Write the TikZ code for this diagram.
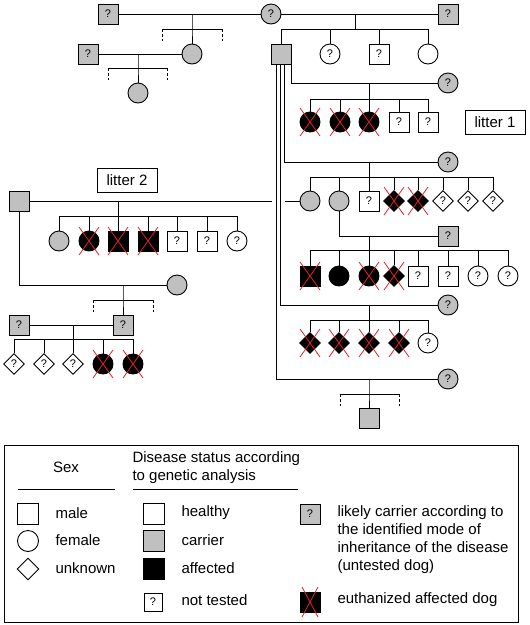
\documentclass[tikz,border=0pt]{standalone}
\usepackage{fontspec}
\setmainfont{Liberation Sans}
\usepackage{tikz}
\usetikzlibrary{shapes.geometric,backgrounds}
\definecolor{carrgray}{RGB}{192,192,192}
\definecolor{xred}{RGB}{228,32,40}

\tikzset{
	dog/.style={draw, line width=0.9pt, fill=white, inner sep=0pt, font=\fontsize{11}{11}\selectfont},
	male/.style={dog, rectangle, minimum size=20pt},
	fem/.style={dog, circle, minimum size=20pt},
	unk/.style={dog, diamond, minimum size=21pt},
	carr/.style={fill=carrgray},
	aff/.style={fill=black},
	pline/.style={line width=0.9pt},
	openend/.style={line width=0.9pt, dash pattern=on 3pt off 2pt},
	xmark/.style={draw=xred, line width=0.8pt},
	lbox/.style={draw, line width=0.9pt, minimum width=60pt, minimum height=24pt},
	every node/.append style={font=\fontsize{15}{18}\selectfont}
}

\begin{document}
\begin{tikzpicture}[x=1pt, y=-1pt]
	\useasboundingbox (0,0) rectangle (530,625);

	% founders
	\node[male,carr] (g1m) at (108,14) {?};
	\node[fem,carr] (g1f) at (271,14) {?};
	\node[male,carr] (g1r) at (448,14) {?};
	\node[fem,carr] (l1f) at (192,54) {};
	\node[male,carr] (l1m) at (88,54) {?};
	\node[fem,carr] (l2f) at (138,93) {};
	\node[male,carr] (sire) at (281,54) {};
	\node[fem] (s2) at (330,54) {?};
	\node[male] (s3) at (379,54) {?};
	\node[fem] (s4) at (428,54) {};

	% litter 1
	\node[fem,carr] (d1) at (448,83) {?};
	\foreach \n/\x in {a1/310, a2/340, a3/369}
		\node[fem,aff] (\n) at (\x,122) {};
	\node[male] (a4) at (399,122) {?};
	\node[male] (a5) at (428,122) {?};
	\node[lbox] (lit1) at (495,122) {litter 1};

	% litter 3
	\node[fem,carr] (d3) at (448,162) {?};
	\node[fem,carr] (b1) at (310,201) {};
	\node[fem,carr] (b2) at (339,201) {};
	\node[male] (b3) at (369,201) {?};
	\node[unk,aff] (b4) at (394,201) {};
	\node[unk,aff] (b5) at (418,201) {};
	\foreach \n/\x in {b6/443, b7/468, b8/493}
		\node[unk] (\n) at (\x,201) {?};

	% litter 2
	\node[male,carr] (sire2) at (19,201) {};
	\node[lbox] (lit2) at (127,180) {litter 2};
	\node[fem,carr] (c1) at (59,241) {};
	\node[fem,aff] (c2) at (89,241) {};
	\node[male,aff] (c3) at (118,241) {};
	\node[male,aff] (c4) at (148,241) {};
	\node[male] (c5) at (177,241) {?};
	\node[male] (c6) at (207,241) {?};
	\node[fem] (c7) at (237,241) {?};

	% litter 4
	\node[male,carr] (d4) at (448,236) {?};
	\node[male,aff] (e1) at (310,276) {};
	\node[fem,aff] (e2) at (339,276) {};
	\node[fem,aff] (e3) at (369,276) {};
	\node[unk,aff] (e4) at (394,276) {};
	\node[male] (e5) at (418,276) {?};
	\node[male] (e6) at (448,276) {?};
	\node[fem] (e7) at (478,276) {?};
	\node[fem] (e8) at (508,276) {?};

	% litter 5 and 6
	\node[fem,carr] (d5) at (448,305) {?};
	\foreach \n/\x in {h1/310, h2/339, h3/369, h4/399}
		\node[unk,aff] (\n) at (\x,343) {};
	\node[fem] (h5) at (428,343) {?};
	\node[fem,carr] (d6) at (448,379) {?};
	\node[male,carr] (k1) at (369,418) {};

	% lower left family
	\node[fem,carr] (d7) at (177,285) {};
	\node[male,carr] (p1) at (123,325) {?};
	\node[male,carr] (p0) at (19,325) {?};
	\foreach \n/\x in {q1/14, q2/44, q3/73}
		\node[unk] (\n) at (\x,364) {?};
	\node[fem,aff] (q4) at (103,364) {};
	\node[fem,aff] (q5) at (133,364) {};

	% join points
	\coordinate (j0) at (192,14);  \coordinate (j0s) at (192,29);
	\coordinate (j0a) at (162,29); \coordinate (j0b) at (222,29);
	\coordinate (j1) at (355,14);  \coordinate (j1s) at (355,29);
	\coordinate (j2) at (138,54);  \coordinate (j2s) at (138,68);
	\coordinate (j2a) at (108,68); \coordinate (j2b) at (167,68);
	\coordinate (k1m) at (369,83);  \coordinate (k1s) at (369,99);
	\coordinate (k3m) at (369,162); \coordinate (k3s) at (369,177);
	\coordinate (k4m) at (369,236); \coordinate (k4s) at (369,250);
	\coordinate (k5m) at (369,305); \coordinate (k5s) at (369,320);
	\coordinate (k6m) at (369,379); \coordinate (k6s) at (369,394);
	\coordinate (k6a) at (340,394); \coordinate (k6b) at (399,394);
	\coordinate (k2m) at (118,201); \coordinate (k2s) at (118,216);
	\coordinate (gapL) at (272,201); \coordinate (gapR) at (285,201);
	\coordinate (k7m) at (123,285); \coordinate (k7s) at (123,300);
	\coordinate (k7a) at (93,300);  \coordinate (k7b) at (153,300);
	\coordinate (k8m) at (73,325);  \coordinate (k8s) at (73,339);

	\begin{scope}[on background layer, pline]
		% top generations
		\draw (g1m) -- (g1f) -- (g1r);
		\draw (j0) -- (j0s) -- (l1f);
		\draw (j0a) -- (j0b);
		\draw[openend] (j0a) -- ++(0,12) (j0b) -- ++(0,12);
		\draw (l1m) -- (l1f);
		\draw (j2) -- (j2s) -- (l2f);
		\draw (j2a) -- (j2b);
		\draw[openend] (j2a) -- ++(0,12) (j2b) -- ++(0,12);
		\draw (j1) -- (j1s);
		\foreach \n in {sire, s2, s3, s4}
			\draw (j1s) -| (\n);
		% matings of the sire
		\draw (sire.south east) |- (d1);
		\draw ([xshift=3pt]sire.south) |- (d3);
		\draw ([xshift=-1pt]sire.south) |- (d5);
		\draw ([xshift=-5pt]sire.south) |- (d6);
		% litters
		\draw (k1m) -- (k1s);
		\foreach \n in {a1, a2, a3, a4, a5}
			\draw (k1s) -| (\n);
		\draw (k3m) -- (k3s);
		\foreach \n in {b1, b2, b3, b4, b5, b6, b7, b8}
			\draw (k3s) -| (\n);
		\draw (b2) |- (d4);
		\draw (k4m) -- (k4s);
		\foreach \n in {e1, e2, e3, e4, e5, e6, e7, e8}
			\draw (k4s) -| (\n);
		\draw (k5m) -- (k5s);
		\foreach \n in {h1, h2, h3, h4, h5}
			\draw (k5s) -| (\n);
		\draw (k6m) -- (k6s) -- (k1);
		\draw (k6a) -- (k6b);
		\draw[openend] (k6a) -- ++(0,12) (k6b) -- ++(0,12);
		% litter 2 and below
		\draw (sire2) -- (gapL);
		\draw (gapR) -- (b1);
		\draw (k2m) -- (k2s);
		\foreach \n in {c1, c2, c3, c4, c5, c6, c7}
			\draw (k2s) -| (\n);
		\draw (sire2) |- (d7);
		\draw (k7m) -- (k7s) -- (p1);
		\draw (k7a) -- (k7b);
		\draw[openend] (k7a) -- ++(0,12) (k7b) -- ++(0,12);
		\draw (p0) -- (p1);
		\draw (k8m) -- (k8s);
		\foreach \n in {q1, q2, q3, q4, q5}
			\draw (k8s) -| (\n);
	\end{scope}

	% euthanized dogs
	\foreach \n in {a1, a2, a3, b4, b5, c2, c3, c4, e1, e3, e4, h1, h2, h3, h4, q4, q5}
		\draw[xmark] (\n.center) +(-10,-14) -- +(10,14) (\n.center) +(-10,14) -- +(10,-14);

	% legend
	\draw[pline] (4,445) rectangle (518,622);
	\node (hsex) at (66,467) {Sex};
	\node[anchor=west, align=left] (hdis) at (129,467.5) {Disease status according\\to genetic analysis};
	\draw[pline] (18,489) -- (115,489);
	\draw[pline] (133,489) -- (298,489);
	\node[male, minimum size=21pt] (lgm) at (28,514) {};
	\node[anchor=west] at (52,513) {male};
	\node[fem, minimum size=21pt] (lgf) at (28,541) {};
	\node[anchor=west] at (52,540) {female};
	\node[unk, minimum size=22pt] (lgu) at (28,569) {};
	\node[anchor=west] at (52,568) {unknown};
	\node[male, minimum size=21pt] (lgh) at (154,514) {};
	\node[anchor=west] at (178,513) {healthy};
	\node[male, carr, minimum size=21pt] (lgc) at (154,541) {};
	\node[anchor=west] at (178,540) {carrier};
	\node[male, aff, minimum size=21pt] (lga) at (154,569) {};
	\node[anchor=west] at (178,568) {affected};
	\node[male, minimum size=18pt] (lgn) at (153,602) {?};
	\node[anchor=west] at (178,600) {not tested};
	\node[male, carr] (lgl) at (310,514) {?};
	\node[anchor=west, align=left] at (334,539.5) {likely carrier according to\\the identified mode of\\inheritance of the disease\\(untested dog)};
	\node[male, aff] (lge) at (310,602) {};
	\draw[xmark] (lge.center) +(-8,-15) -- +(8,15) (lge.center) +(-8,15) -- +(8,-15);
	\node[anchor=west] at (334,600) {euthanized affected dog};
\end{tikzpicture}
\end{document}
